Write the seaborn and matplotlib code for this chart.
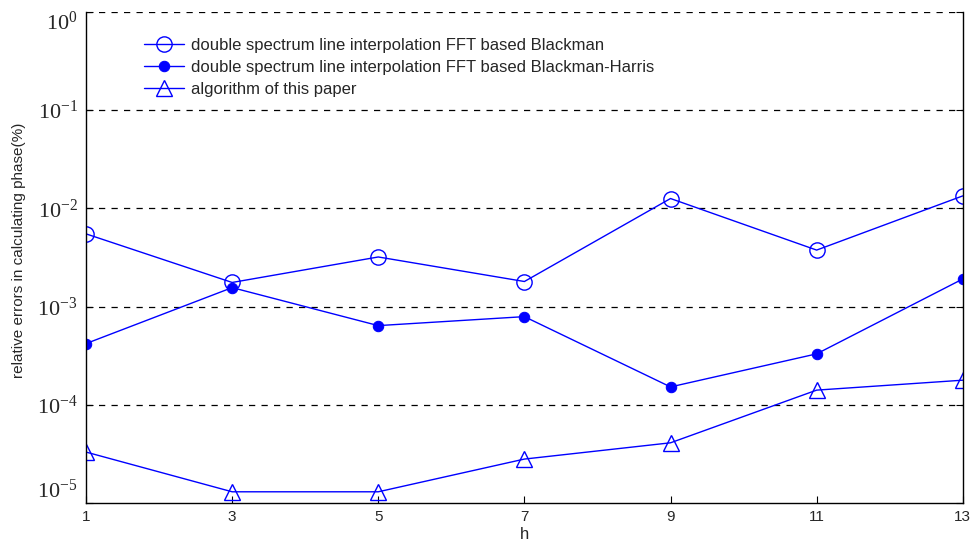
import numpy as np
import pandas as pd
import matplotlib
matplotlib.use("Agg")
import matplotlib.pyplot as plt
import matplotlib.ticker as mtick
import seaborn as sns

# data
harmonics = [1, 3, 5, 7, 9, 11, 13]
err_blackman = [5.5e-3, 1.76e-3, 3.2e-3, 1.8e-3, 1.26e-2, 3.76e-3, 1.34e-2]
err_bh = [4.2e-4, 1.56e-3, 6.4e-4, 7.9e-4, 1.52e-4, 3.3e-4, 1.91e-3]
err_paper = [3.3e-5, 1.3e-5, 1.3e-5, 2.8e-5, 4.1e-5, 1.41e-4, 1.78e-4]

series_labels = [
    "double spectrum line interpolation FFT based Blackman",
    "double spectrum line interpolation FFT based Blackman-Harris",
    "algorithm of this paper",
]
y_decades = [-5, -4, -3, -2, -1, 0]

BLUE = "#0000ff"

sns.set_theme(style="white")
plt.rcParams.update({
    "font.family": ["Liberation Sans", "DejaVu Sans"],
    "mathtext.fontset": "custom",
    "mathtext.rm": "Liberation Serif",
    "mathtext.it": "Liberation Serif:italic",
    "xtick.direction": "in",
    "ytick.direction": "in",
})

df = pd.DataFrame({
    "h": harmonics * 3,
    "err": err_blackman + err_bh + err_paper,
    "series": sum([[s] * len(harmonics) for s in series_labels], []),
})

fig = plt.figure(figsize=(9.72, 5.44), dpi=100)
ax = fig.add_axes([0.0885, 0.0754, 0.902, 0.9026])

styles = [
    dict(marker="o", markersize=11, markerfacecolor="none", markeredgecolor=BLUE, markeredgewidth=1.0),
    dict(marker="o", markersize=7.5, markerfacecolor=BLUE, markeredgecolor=BLUE),
    dict(marker="^", markersize=12, markerfacecolor="none", markeredgecolor=BLUE, markeredgewidth=1.0),
]
for lab, st in zip(series_labels, styles):
    sub = df[df["series"] == lab]
    sns.lineplot(data=sub, x="h", y="err", ax=ax, color=BLUE, linewidth=1.0,
                 label=lab, **st)

ax.set_yscale("log")
ax.set_ylim(1e-5, 1)
ax.set_xlim(1, 13)
ax.set_xticks(harmonics)
ax.set_xticklabels([str(h) for h in harmonics], fontsize=11)
ax.yaxis.set_major_locator(mtick.FixedLocator([10.0 ** d for d in y_decades]))
ax.yaxis.set_minor_locator(mtick.NullLocator())
ax.set_yticklabels([r"$\mathrm{10^{%d}}$" % d for d in y_decades], fontsize=16)
labs = ax.get_yticklabels()
labs[0].set_va("bottom")
labs[-1].set_va("top")

ax.tick_params(axis="both", which="major", length=5, width=0.8, color="black",
               left=True, right=True, bottom=True, top=False, pad=6)
ax.tick_params(axis="x", pad=5)

# dashed decade lines
for d in y_decades[1:]:
    ax.axhline(10.0 ** d, color="black", linestyle=(0, (5, 5)), linewidth=0.9, zorder=0)

for side in ["left", "right", "bottom"]:
    ax.spines[side].set_visible(True)
    ax.spines[side].set_color("black")
    ax.spines[side].set_linewidth(1.0)
ax.spines["top"].set_visible(False)

ax.set_xlabel("h", fontsize=12, labelpad=2)
ax.set_ylabel("relative errors in calculating phase(%)", fontsize=11, labelpad=6)
ax.yaxis.set_label_coords(-0.069, 0.515)

ax.legend(loc="upper left", bbox_to_anchor=(0.066, 0.948), frameon=False,
          fontsize=12, handlelength=2.4, handletextpad=0.4, labelspacing=0.43,
          borderaxespad=0, borderpad=0)

fig.savefig("out.png", dpi=100)
